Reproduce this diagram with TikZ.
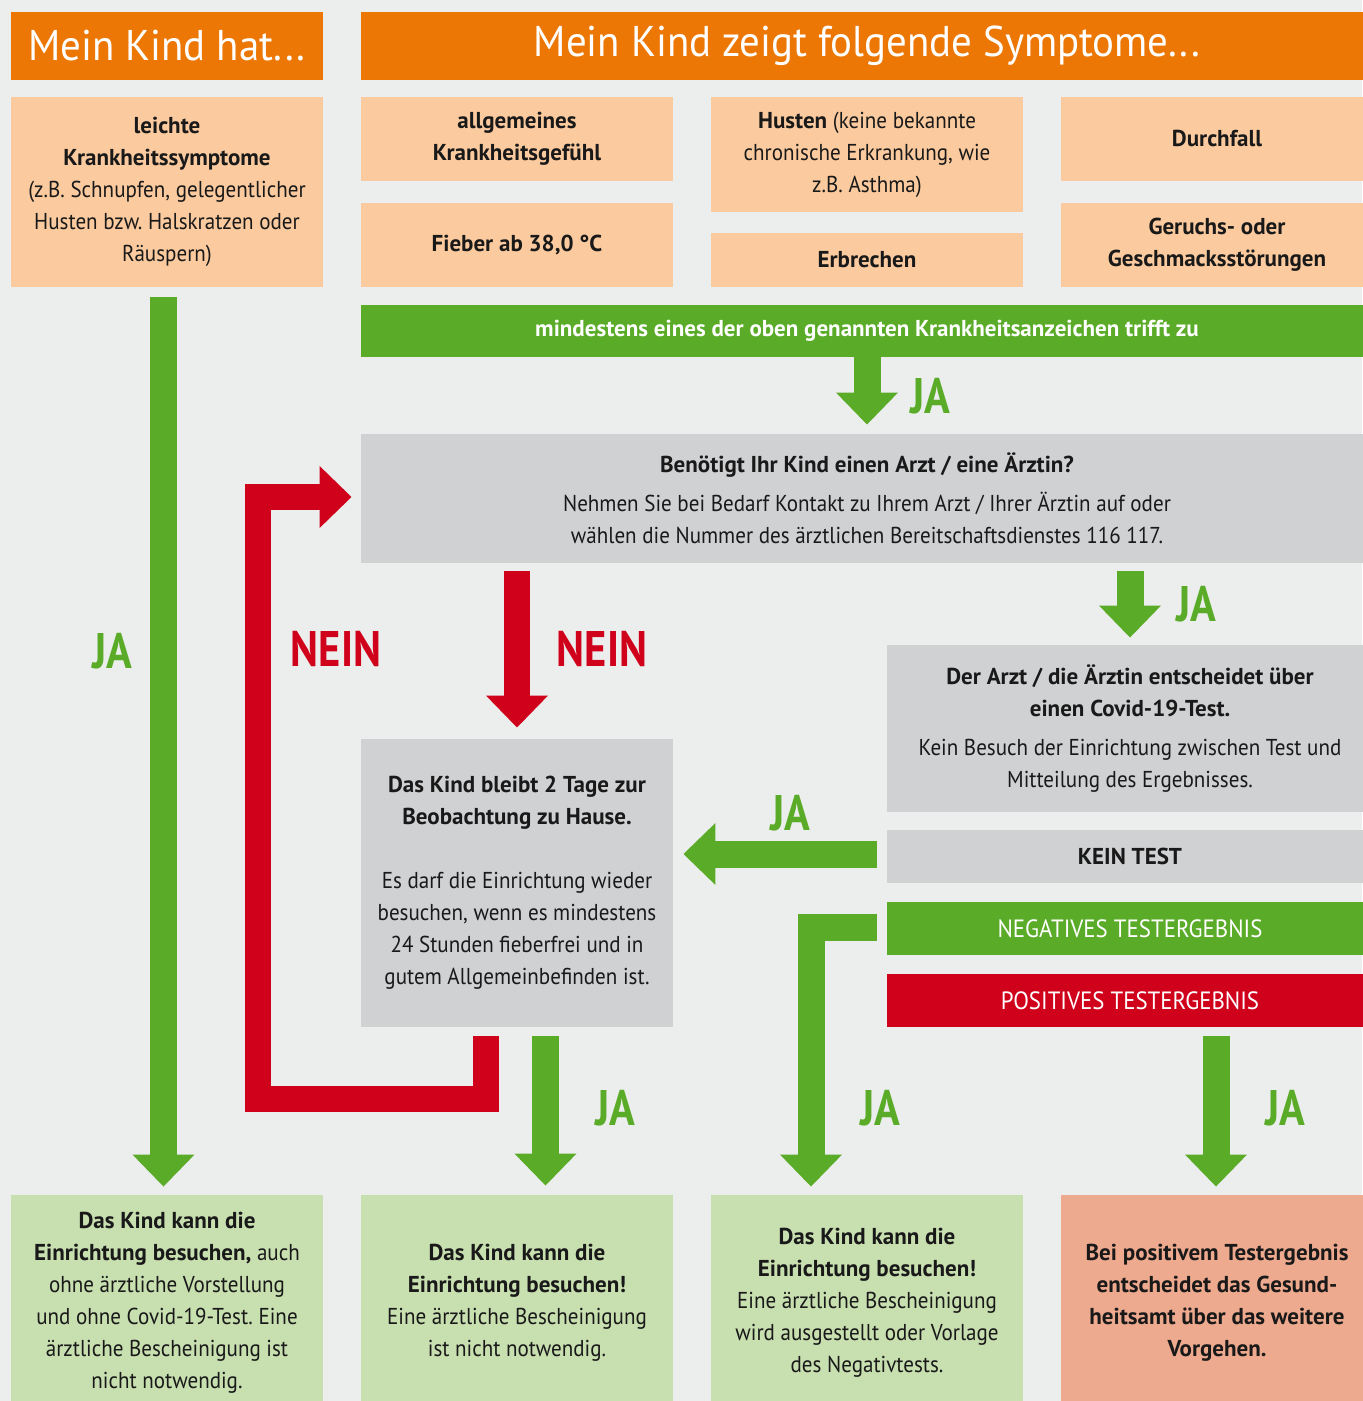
\documentclass[tikz,border=0pt]{standalone}
\usepackage{fontspec}
\setmainfont{PT Sans}[UprightFeatures={FakeStretch=0.915}]
\newfontfamily\headfont{PT Sans}[FakeStretch=0.95]
\newfontfamily\signfont{PT Sans}[FakeStretch=0.85]
\usetikzlibrary{arrows.meta,calc}

\definecolor{paper}{HTML}{ECEEED}
\definecolor{headorange}{HTML}{EC7704}
\definecolor{peach}{HTML}{FBCB9F}
\definecolor{jagreen}{HTML}{5AAB28}
\definecolor{neinred}{HTML}{D0021B}
\definecolor{panelgrey}{HTML}{D0D1D3}
\definecolor{okgreen}{HTML}{C8DFB0}
\definecolor{salmon}{HTML}{EEAA8E}

\frenchspacing
\begin{document}
\begin{tikzpicture}[x=0.5pt,y=-0.5pt]
\tikzstyle{box}=[rectangle, inner sep=0pt, align=center, text=black!90, font=\fontsize{11.5}{16}\selectfont]
\tikzstyle{header}=[box, fill=headorange, text=white, font=\headfont\fontsize{21.5}{24}\selectfont, minimum height=34pt]
\tikzstyle{symptom}=[box, fill=peach, minimum width=156pt]
\tikzstyle{question}=[box, fill=panelgrey]
\tikzstyle{result}=[box, text=white, minimum width=243pt, minimum height=26.5pt, font=\fontsize{12.5}{14}\selectfont]
\tikzstyle{outcome}=[box, fill=okgreen, minimum width=156pt, minimum height=108pt]
\tikzstyle{yesarrow}=[draw=jagreen, line width=13.5pt, -{Triangle[width=30pt,length=16pt]}]
\tikzstyle{noarrow}=[draw=neinred, line width=13pt, line join=miter, -{Triangle[width=30pt,length=16pt]}]
\tikzstyle{yes}=[text=jagreen, font=\signfont\bfseries\fontsize{25}{25}\selectfont]
\tikzstyle{no}=[yes, text=neinred]

\useasboundingbox (0,0) rectangle (1362,1401);
\fill[paper] (0,0) rectangle (1362,1401);

% headers
\draw (167,46) node[header, minimum width=156pt] (hdr1) {Mein Kind hat...};
\draw (867,46) node[header, minimum width=506pt] (hdr2) {Mein Kind zeigt folgende Symptome...};

% symptoms
\draw (167,192) node[symptom, minimum height=95pt] (sym1) {\textbf{leichte}\\\textbf{Krankheitssymptome}\\(z.B. Schnupfen, gelegentlicher\\Husten bzw. Halskratzen oder\\Räuspern)};
\draw (517,139) node[symptom, minimum height=42pt] (sym2a) {\textbf{allgemeines}\\\textbf{Krankheitsgefühl}};
\draw (517,245) node[symptom, minimum height=42pt] (sym2b) {\textbf{Fieber ab 38,0 °C}};
\draw (867,154.5) node[symptom, minimum height=57.5pt] (sym3a) {\textbf{Husten} (keine bekannte\\chronische Erkrankung, wie\\z.B. Asthma)};
\draw (867,260) node[symptom, minimum height=27pt] (sym3b) {\textbf{Erbrechen}};
\draw (1217,139) node[symptom, minimum height=42pt] (sym4a) {\textbf{Durchfall}};
\draw (1217,245) node[symptom, minimum height=42pt] (sym4b) {\textbf{Geruchs- oder}\\\textbf{Geschmacksstörungen}};

\draw (867,331) node[box, fill=jagreen, text=white, minimum width=506pt, minimum height=26pt] (any) {\textbf{mindestens eines der oben genannten Krankheitsanzeichen trifft zu}};

% questions
\draw (867,498.5) node[question, minimum width=506pt, minimum height=64.5pt] (doc) {\textbf{Benötigt Ihr Kind einen Arzt / eine Ärztin?}\\[3.5pt]Nehmen Sie bei Bedarf Kontakt zu Ihrem Arzt / Ihrer Ärztin auf oder\\wählen die Nummer des ärztlichen Bereitschaftsdienstes 116 117.};
\draw (517,883) node[question, minimum width=156pt, minimum height=144pt] (home) {\textbf{Das Kind bleibt 2 Tage zur}\\\textbf{Beobachtung zu Hause.}\\[16pt]Es darf die Einrichtung wieder\\besuchen, wenn es mindestens\\24 Stunden fieberfrei und in\\gutem Allgemeinbefinden ist.};
\draw (1130,728.5) node[question, minimum width=243pt, minimum height=83.5pt] (test) {\textbf{Der Arzt / die Ärztin entscheidet über}\\\textbf{einen Covid-19-Test.}\\[3.5pt]Kein Besuch der Einrichtung zwischen Test und\\Mitteilung des Ergebnisses.};
\draw (1130,856.5) node[result, fill=panelgrey, text=black!90, font=\fontsize{11.5}{14}\selectfont] (notest) {\textbf{KEIN TEST}};
\draw (1130,928.5) node[result, fill=jagreen] (neg) {NEGATIVES TESTERGEBNIS};
\draw (1130,1000.5) node[result, fill=neinred] (pos) {POSITIVES TESTERGEBNIS};

% outcomes
\draw (167,1303) node[outcome] (ok1) {\textbf{Das Kind kann die}\\\textbf{Einrichtung besuchen,} auch\\ohne ärztliche Vorstellung\\und ohne Covid-19-Test. Eine\\ärztliche Bescheinigung ist\\nicht notwendig.};
\draw (517,1303) node[outcome] (ok2) {\textbf{Das Kind kann die}\\\textbf{Einrichtung besuchen!}\\Eine ärztliche Bescheinigung\\ist nicht notwendig.};
\draw (867,1303) node[outcome] (ok3) {\textbf{Das Kind kann die}\\\textbf{Einrichtung besuchen!}\\Eine ärztliche Bescheinigung\\wird ausgestellt oder Vorlage\\des Negativtests.};
\draw (1217,1303) node[outcome, fill=salmon] (health) {\textbf{Bei positivem Testergebnis}\\\textbf{entscheidet das Gesund-}\\\textbf{heitsamt über das weitere}\\\textbf{Vorgehen.}};

% arrows
\draw[yesarrow] ($(sym1.south)+(-3.5,10)$) -- ($(ok1.north)+(-3.5,-8)$);
\draw[yesarrow] (any.south) -- ($(doc.north)+(0,-9)$);
\draw[noarrow] ($(doc.south -| home.north)+(0,8)$) -- ($(home.north)+(0,-11)$);
\draw[yesarrow] ($(doc.south -| test.north)+(0,8)$) -- ($(test.north)+(0,-7)$);
\draw[yesarrow] ($(notest.west)+(-10,-2.5)$) -- ($(home.east |- notest.west)+(10,-2.5)$);
\draw[yesarrow] ($(neg.west)+(-10,-1)$) -| ($(ok3.north)+(-56,-8)$);
\draw[yesarrow] ($(home.south)+(28.5,9)$) -- ($(ok2.north)+(28.5,-9)$);
\draw[yesarrow] ($(pos.south -| health.north)+(-1,9)$) -- ($(health.north)+(-1,-8)$);
\draw[noarrow] ($(home.south)+(-31,9)$) -- ++(0,63) -- ++(-228,0) |- ($(doc.west)+(-9,-1.5)$);

% labels
\draw (112,651) node[yes] (ja1) {JA};
\draw (930,396) node[yes] (ja2) {JA};
\draw (336,649) node[no] (nein1) {NEIN};
\draw (602,649) node[no] (nein2) {NEIN};
\draw (1196,604) node[yes] (ja3) {JA};
\draw (790,813) node[yes] (ja4) {JA};
\draw (615,1108) node[yes] (ja5) {JA};
\draw (880,1108) node[yes] (ja6) {JA};
\draw (1285,1108) node[yes] (ja7) {JA};
\end{tikzpicture}
\end{document}
